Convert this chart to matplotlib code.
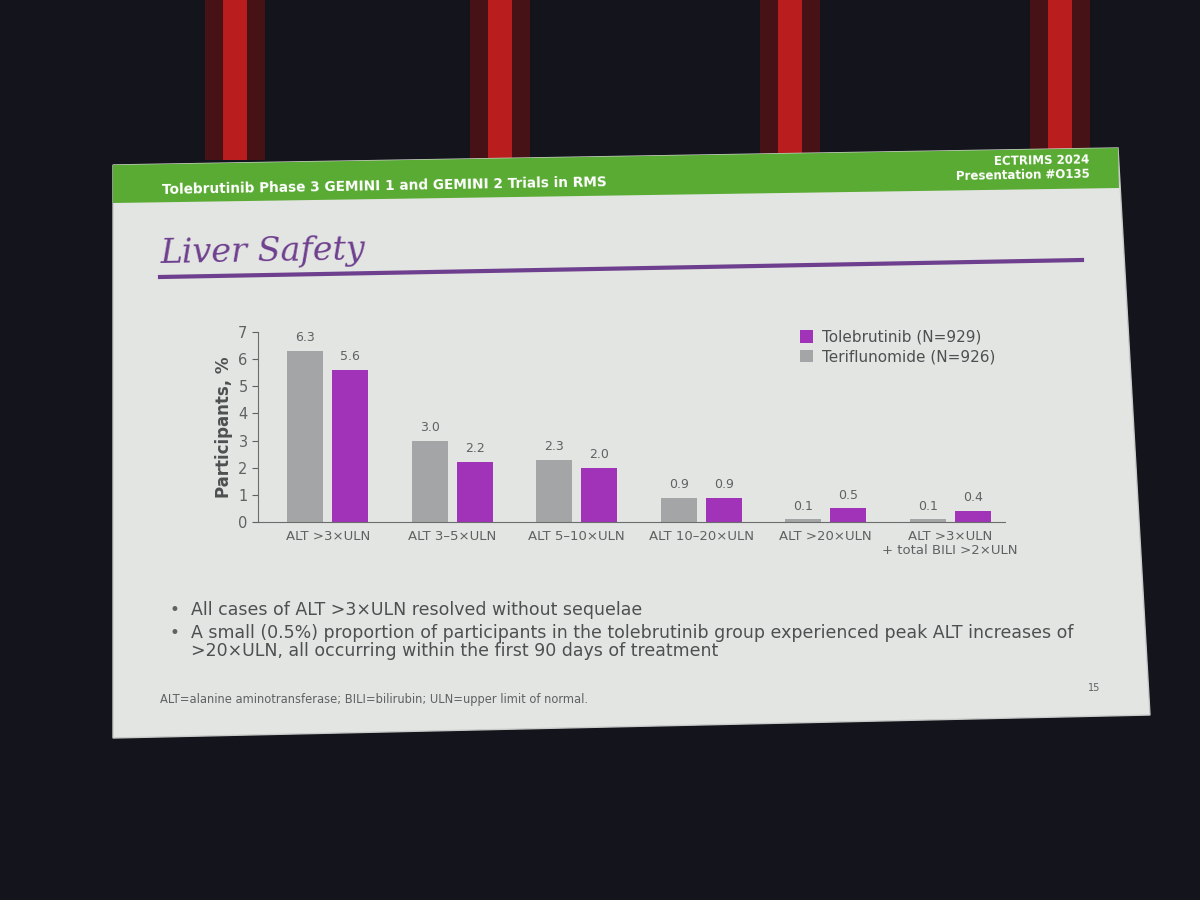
import matplotlib.pyplot as plt
from matplotlib.patches import Polygon, Rectangle
import numpy as np

# data
categories = ["ALT >3×ULN", "ALT 3–5×ULN", "ALT 5–10×ULN", "ALT 10–20×ULN",
              "ALT >20×ULN", "ALT >3×ULN\n+ total BILI >2×ULN"]
teriflunomide = [6.3, 3.0, 2.3, 0.9, 0.1, 0.1]
tolebrutinib = [5.6, 2.2, 2.0, 0.9, 0.5, 0.4]
series_names = ["Tolebrutinib (N=929)", "Teriflunomide (N=926)"]
bullets = ["All cases of ALT >3×ULN resolved without sequelae",
           "A small (0.5%) proportion of participants in the tolebrutinib group experienced peak ALT increases of\n"
           ">20×ULN, all occurring within the first 90 days of treatment"]

GREY = "#a3a5a7"
PURPLE = "#a133b8"
TEXT = "#5f6163"
SLIDE = "#e3e5e3"
GREEN = "#5aab34"

fig = plt.figure(figsize=(12, 9), dpi=100)
fig.patch.set_facecolor("#14151c")

# background / slide in pixel coordinates
bg = fig.add_axes([0, 0, 1, 1])
bg.set_xlim(0, 1200)
bg.set_ylim(900, 0)
bg.axis("off")

# stage lights
for x0 in [205, 470, 760, 1030]:
    bg.add_patch(Rectangle((x0, 0), 60, 160, color="#7a1010", alpha=0.5, lw=0))
    bg.add_patch(Rectangle((x0 + 18, 0), 24, 160, color="#d62020", alpha=0.8, lw=0))

bg.add_patch(Polygon([(113, 165), (1118, 148), (1150, 715), (113, 738)],
                     closed=True, facecolor=SLIDE, edgecolor="#c9cbc9", lw=1))
bg.add_patch(Polygon([(113, 165), (1118, 148), (1119, 188), (113, 203)],
                     closed=True, facecolor=GREEN, lw=0))

bg.text(162, 186, "Tolebrutinib Phase 3 GEMINI 1 and GEMINI 2 Trials in RMS",
        color="white", fontsize=9.8, fontweight="bold", va="center", rotation=1)
bg.text(1090, 168, "ECTRIMS 2024\nPresentation #O135", color="white", fontsize=8.5,
        fontweight="bold", ha="right", va="center", rotation=1, linespacing=1.1)

bg.text(160, 252, "Liver Safety", family="DejaVu Serif", style="italic",
        color="#6e3f8e", fontsize=24, va="center", rotation=1)
bg.plot([160, 1082], [277, 260], color="#6e3f8e", lw=3)

yb = [601, 624]
for y, b in zip(yb, bullets):
    bg.text(174, y, "•", color=TEXT, fontsize=12, va="top", ha="center")
    bg.text(191, y, b, color="#4d4f51", fontsize=12.5, va="top", linespacing=1.0)

bg.text(160, 700, "ALT=alanine aminotransferase; BILI=bilirubin; ULN=upper limit of normal.",
        color=TEXT, fontsize=8.3, va="center")
bg.text(1088, 688, "15", color=TEXT, fontsize=7, va="center")

# chart
ax = fig.add_axes([258 / 1200, (900 - 522) / 900, (1005 - 258) / 1200, (522 - 332) / 900])
ax.set_facecolor(SLIDE)
x = np.arange(len(categories))
w = 0.29
b1 = ax.bar(x - 0.18, teriflunomide, w, color=GREY, label=series_names[1])
b2 = ax.bar(x + 0.18, tolebrutinib, w, color=PURPLE, label=series_names[0])
for bars, vals in [(b1, teriflunomide), (b2, tolebrutinib)]:
    for r, v in zip(bars, vals):
        ax.text(r.get_x() + r.get_width() / 2, v + 0.25, f"{v:.1f}",
                ha="center", va="bottom", fontsize=9, color=TEXT)

ax.set_xlim(-0.56, 5.44)
ax.set_ylim(0, 7)
ax.set_yticks(range(8))
ax.set_xticks(x)
ax.set_xticklabels(categories, fontsize=9.5, color=TEXT, linespacing=1.1)
ax.tick_params(axis="x", length=0, pad=6)
ax.tick_params(axis="y", colors=TEXT, labelsize=10.5, length=4)
ax.set_ylabel("Participants, %", fontsize=12, fontweight="bold", color="#4d4f51")
for s in ["top", "right"]:
    ax.spines[s].set_visible(False)
for s in ["left", "bottom"]:
    ax.spines[s].set_color("#6a6c6e")

h, l = ax.get_legend_handles_labels()
ax.legend(h[::-1], l[::-1], loc="upper right", bbox_to_anchor=(1.0, 1.06), frameon=False,
          fontsize=11, handlelength=0.9, handleheight=0.9, labelcolor="#4d4f51",
          borderaxespad=0.2, handletextpad=0.6, labelspacing=0.3)

fig.savefig("out.png", dpi=100, facecolor=fig.get_facecolor())
